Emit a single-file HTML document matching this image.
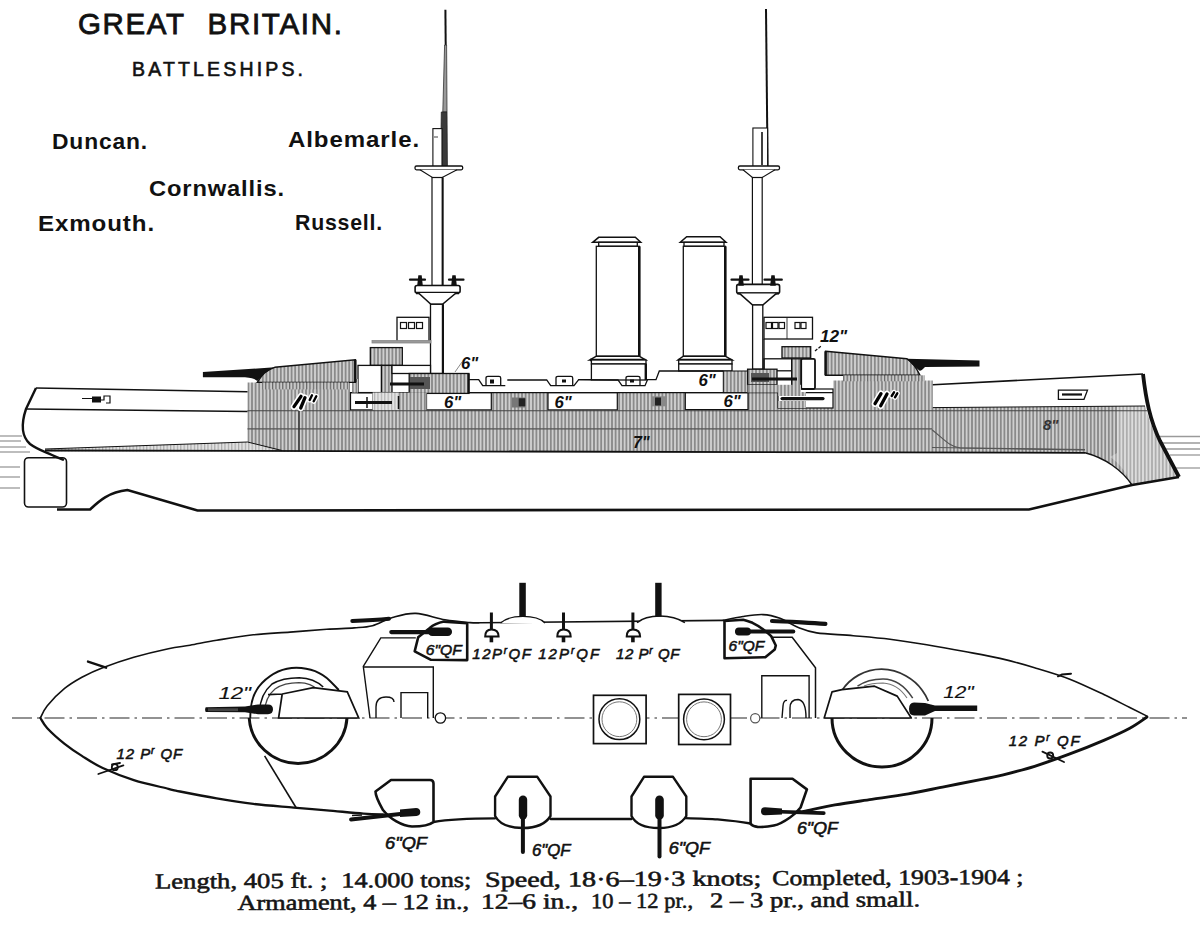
<!DOCTYPE html>
<html><head><meta charset="utf-8"><title>Great Britain Battleships</title>
<style>
html,body{margin:0;padding:0;background:#fff;width:1200px;height:925px;overflow:hidden;}
svg{display:block;}
.t{font-family:"Liberation Sans",sans-serif;fill:#111;}
.s{font-family:"Liberation Serif",serif;fill:#151515;stroke:#151515;stroke-width:0.55px;}
.lb{font-family:"Liberation Sans",sans-serif;font-style:italic;font-weight:bold;fill:#111;}
.pl{font-family:"Liberation Sans",sans-serif;font-style:italic;fill:#111;stroke:#111;stroke-width:0.55px;}
</style></head>
<body>
<svg width="1200" height="925" viewBox="0 0 1200 925">
<defs>
<pattern id="h" width="3.6" height="6" patternUnits="userSpaceOnUse">
<rect width="3.6" height="6" fill="#8a8a8a"/>
<rect x="1.2" width="1.2" height="6" fill="#f2f2f2"/>
</pattern>
<pattern id="h2" width="3.4" height="6" patternUnits="userSpaceOnUse">
<rect width="3.4" height="6" fill="#c8c8c8"/>
<rect x="0" width="1.2" height="6" fill="#666"/>
</pattern>
</defs>

<!-- ============ TITLES ============ -->
<text class="t" x="78" y="33.5" font-size="29.5" stroke="#111" stroke-width="0.8" textLength="106" lengthAdjust="spacing">GREAT</text>
<text class="t" x="207.5" y="33.5" font-size="29.5" stroke="#111" stroke-width="0.8" textLength="134.5" lengthAdjust="spacing">BRITAIN.</text>
<text class="t" x="132" y="76" font-size="19.5" stroke="#111" stroke-width="0.6" textLength="171" lengthAdjust="spacing">BATTLESHIPS.</text>
<text class="t" x="52" y="149.3" font-size="21.5" font-weight="bold" textLength="96" letter-spacing="0.8" lengthAdjust="spacingAndGlyphs">Duncan.</text>
<text class="t" x="288" y="147.3" font-size="21.5" font-weight="bold" textLength="132" letter-spacing="0.8" lengthAdjust="spacingAndGlyphs">Albemarle.</text>
<text class="t" x="149" y="196" font-size="21.5" font-weight="bold" textLength="136" letter-spacing="0.8" lengthAdjust="spacingAndGlyphs">Cornwallis.</text>
<text class="t" x="38" y="231" font-size="21.5" font-weight="bold" textLength="117" letter-spacing="0.8" lengthAdjust="spacingAndGlyphs">Exmouth.</text>
<text class="t" x="295" y="230" font-size="21.5" font-weight="bold" textLength="88" letter-spacing="0.8" lengthAdjust="spacingAndGlyphs">Russell.</text>

<!-- ============ CAPTION ============ -->
<g transform="rotate(-0.3 590 897)">
<text class="s" x="155" y="886.3" font-size="21.5" textLength="172.5" lengthAdjust="spacingAndGlyphs">Length, 405 ft. ;</text>
<text class="s" x="341.3" y="886.3" font-size="21.5" textLength="130.2" lengthAdjust="spacingAndGlyphs">14.000 tons;</text>
<text class="s" x="485" y="886.3" font-size="21.5" textLength="276.5" lengthAdjust="spacingAndGlyphs">Speed, 18·6–19·3 knots;</text>
<text class="s" x="772.3" y="886.3" font-size="21.5" textLength="251.2" lengthAdjust="spacingAndGlyphs">Completed, 1903-1904 ;</text>
<text class="s" x="237.5" y="908.2" font-size="21.5" textLength="231.5" lengthAdjust="spacingAndGlyphs">Armament, 4 – 12 in.,</text>
<text class="s" x="481" y="908.2" font-size="21.5" textLength="97.0" lengthAdjust="spacingAndGlyphs">12–6 in.,</text>
<text class="s" x="591" y="908.2" font-size="21.5" textLength="102.0" lengthAdjust="spacingAndGlyphs">10 – 12 pr.,</text>
<text class="s" x="710" y="908.2" font-size="21.5" textLength="210.0" lengthAdjust="spacingAndGlyphs">2 – 3 pr., and small.</text>
</g>

<!-- water lines -->
<g stroke="#9a9a9a" stroke-width="1.3">
<line x1="0" y1="436" x2="22" y2="436"/><line x1="0" y1="441" x2="21" y2="441"/>
<line x1="0" y1="447" x2="26" y2="447"/><line x1="0" y1="452" x2="30" y2="452"/>
<line x1="0" y1="467" x2="20" y2="467"/><line x1="0" y1="477" x2="20" y2="477"/><line x1="0" y1="488" x2="20" y2="488"/>
<line x1="1160" y1="436.5" x2="1200" y2="436.5"/><line x1="1162" y1="443" x2="1200" y2="443"/>
<line x1="1166" y1="449" x2="1200" y2="449"/><line x1="1170" y1="455" x2="1200" y2="455"/>
<line x1="1175" y1="468" x2="1200" y2="468"/>
</g>
<!-- big hatched belt / barbettes -->
<path fill="url(#h)" d="M247.5,382.4 L350,382.4 L350,392.6 L833,392.6 L833,380.4 L932.8,380.4 L932.8,407.6 L1145,406 C1149,420 1153,432 1160,441 L1179,477 L1132,485 C1122,470 1105,458 1085,452.8 L282,451.7 L247.5,442 Z"/>
<!-- lighter mottled bow area -->
<path d="M1117,406 L1145,406 C1149,420 1153,432 1160,441 L1179,477 L1132,485 C1125,470 1118,462 1110,457 L1117,453 Z" fill="#fff" opacity="0.3"/>
<!-- stern thin hatched strip -->
<path fill="url(#h2)" d="M45,449 L247.5,442 L282,451.5 L45,451.5 Z" opacity="0.55"/>
<!-- bow forefoot hatched lower -->
<path d="M932,447.5 L1085,449.5" stroke="#555" stroke-width="1"/>
<!-- white boxes within belt band (lower casemates) -->
<g fill="#fff" stroke="#111" stroke-width="1.2">
<rect x="350.5" y="392.6" width="22.5" height="17.3"/>
<rect x="426.5" y="392.6" width="64.8" height="17.3"/>
<rect x="548" y="392.6" width="69.3" height="17.3"/>
<rect x="685.3" y="392.6" width="62.7" height="17"/>
<rect x="778" y="389" width="55" height="19"/>
</g>
<!-- ports -->
<g fill="#222">
<rect x="512" y="397.5" width="13" height="10" fill="#777"/><rect x="518.7" y="398.3" width="6.6" height="8"/>
<rect x="651.3" y="396.3" width="15.4" height="10" fill="#888"/><rect x="655" y="397.5" width="6" height="8"/>
</g>
<!-- belt mid line and outlines -->
<g stroke="#222" stroke-width="1.1" fill="none">
<line x1="247.5" y1="428.9" x2="932" y2="428.9" stroke="#555"/>
<line x1="247.5" y1="410.7" x2="1147" y2="410.7" stroke="#444"/>
<line x1="299" y1="410.7" x2="299" y2="451" stroke="#333" stroke-width="1.4"/>
<path d="M932,429.8 C945,440 950,447 960,448 L1085,450" stroke="#555"/>
</g>
<!-- upper deck line -->
<line x1="350" y1="392.6" x2="833" y2="392.6" stroke="#111" stroke-width="1.3"/>

<!-- stern upper hull -->
<g stroke="#111" fill="none">
<path d="M36,388 L247.5,391.7" stroke-width="1.6"/>
<path d="M26,409 L247.5,411.5" stroke-width="1.5"/>
<path d="M36,388 L26,409 C21,424 21,436 30,444 C38,450 46,452 52,455 C58,458 62,459 64,460" stroke-width="2.4"/>
<path d="M45,450.5 L1085,452.8" stroke-width="1.8"/>
<path d="M45,449 L247.5,442 L282,450.5" stroke-width="1"/>
<!-- rudder -->
<rect x="24.5" y="457.7" width="42" height="49.3" rx="4" stroke-width="1.6"/>
<!-- keel -->
<path d="M57,509.5 L90,509.5 C98,502 108,492 127.5,490 L197.5,510.5 L1029,509.5 L1132,485 L1179,477" stroke-width="2.6"/>
<!-- bow stem -->
<path d="M1143,374 C1146,400 1150,420 1160,441 L1179,477" stroke-width="3.8"/>
<!-- forecastle -->
<path d="M932.8,384.8 L1143,374" stroke-width="1.6"/>
<path d="M932.8,407.6 L1145,406" stroke-width="1"/>
<!-- forefoot curve -->
<path d="M1085,452.8 C1105,458 1122,470 1132,485" stroke-width="1.4"/>
</g>
<!-- hawse boxes -->
<g stroke="#111" stroke-width="1.3" fill="#fff">
<path d="M1058.4,390.2 L1087.5,390.2 L1084,399.3 L1058.4,399.3 Z"/>
<path d="M1062,394.5 L1082,394.5" stroke-width="2.2"/>
<path d="M82,398.5 L92,398.5 M101,400 L104,400 L104,396 L110,396 L110,403 L106,403" stroke-width="1.2" fill="none"/>
<rect x="92" y="396.5" width="9" height="6" fill="#111" stroke="none"/>
</g>

<!-- ===== masts ===== -->
<g stroke="#111" fill="#fff">
<!-- main (aft) mast topmast -->
<line x1="445.4" y1="9.7" x2="445.7" y2="46" stroke-width="2"/>
<path d="M444.6,45 L446.6,45 L447,112 L442.8,112 Z" fill="#999" stroke="#333" stroke-width="0.8"/>
<path d="M441.3,112 L447,112 L447.4,166.5 L440.6,166.5 Z" fill="#3a3a3a" stroke="#222" stroke-width="0.8"/>
<rect x="432.9" y="128.6" width="9.1" height="38" stroke-width="1.1"/>
<line x1="434" y1="137" x2="438" y2="137" stroke-width="0.8"/>
<!-- top platform -->
<rect x="415" y="166" width="47.7" height="3.8" rx="1.5" stroke-width="1.3"/>
<path d="M420,169.8 L432.4,177.5 L442.2,177.5 L457,169.8" stroke-width="1.2"/>
<!-- lower mast -->
<rect x="432" y="177.5" width="10.6" height="108" stroke-width="1.2"/>
<line x1="442.6" y1="177.5" x2="442.6" y2="285.5" stroke-width="2"/>
<!-- fighting top -->
<rect x="415.1" y="285.5" width="45" height="7.5" rx="2" stroke-width="1.6"/>
<line x1="416" y1="293" x2="459" y2="293" stroke-width="2.4"/>
<path d="M418.5,293 L430.9,304.3 L442.5,304.3 L456,293" stroke-width="1.6"/>
<rect x="430.5" y="304.3" width="12.4" height="69.2" stroke-width="1.3"/>
<line x1="442.9" y1="304.3" x2="442.9" y2="373.5" stroke-width="2.2"/>

<!-- fore mast topmast -->
<line x1="766" y1="9" x2="767.6" y2="166.5" stroke-width="2"/>
<rect x="752.9" y="128" width="14.7" height="38.5" stroke-width="1.1"/>
<line x1="762" y1="132" x2="762" y2="165" stroke-width="1.6"/>
<rect x="738.4" y="166" width="41.1" height="3.8" rx="1.5" stroke-width="1.3"/>
<path d="M743,169.8 L752.4,177.5 L762.2,177.5 L775,169.8" stroke-width="1.2"/>
<rect x="752.4" y="177.5" width="9.8" height="107" stroke-width="1.2"/>
<rect x="736.7" y="284.4" width="42.9" height="9" rx="2" stroke-width="1.6"/>
<line x1="737.5" y1="293.4" x2="778.8" y2="293.4" stroke-width="2.4"/>
<path d="M739.5,293.4 L752.6,305 L762.8,305 L776.5,293.4" stroke-width="1.6"/>
<rect x="752.6" y="305" width="10.2" height="64.2" stroke-width="1.3"/>
</g>
<!-- small guns on tops -->
<g fill="#111" stroke="#111" stroke-width="2.2" stroke-linecap="round">
<line x1="410" y1="279.7" x2="425" y2="279.7"/><path d="M418,285 L419,276 L421,276 L422,285 Z" stroke-width="1.5"/>
<line x1="449" y1="279.7" x2="463.5" y2="279.7"/><path d="M452,285 L453,276 L455,276 L456,285 Z" stroke-width="1.5"/>
<line x1="731.5" y1="279.7" x2="748.5" y2="279.7"/><path d="M739,285 L740,276 L742,276 L743,285 Z" stroke-width="1.5"/>
<line x1="764.5" y1="279.7" x2="781.8" y2="279.7"/><path d="M771,285 L772,276 L774,276 L775,285 Z" stroke-width="1.5"/>
</g>

<!-- ===== funnels ===== -->
<g stroke="#111" fill="#fff">
<path d="M598.7,237.3 L635.3,237.3 L640.7,242.3 L592.7,242.3 Z" stroke-width="1.5"/>
<rect x="598.7" y="242.3" width="38.6" height="4" stroke-width="1.3"/>
<rect x="596.3" y="246.3" width="43" height="110" stroke-width="1.3"/>
<line x1="639.3" y1="246.3" x2="639.3" y2="356.3" stroke-width="2.6"/>
<path d="M596.3,356.2 L639.3,356.2 L645.6,360 L589.7,360 Z" stroke-width="1.5"/>
<line x1="590" y1="360" x2="645.5" y2="360" stroke-width="2.4"/>
<rect x="591.4" y="360" width="54.6" height="4" stroke-width="1.3"/>
<rect x="591.4" y="364" width="54.6" height="16" stroke-width="1.3"/>
<line x1="645.8" y1="364" x2="645.8" y2="380" stroke-width="2.4"/>

<path d="M686.7,236.7 L720,236.7 L726,242.3 L680.3,242.3 Z" stroke-width="1.5"/>
<rect x="684" y="242.3" width="40" height="4" stroke-width="1.3"/>
<rect x="683.3" y="246.3" width="42" height="110" stroke-width="1.3"/>
<line x1="725.3" y1="246.3" x2="725.3" y2="356.3" stroke-width="2.6"/>
<path d="M683.3,356.2 L725.3,356.2 L732,360 L678,360 Z" stroke-width="1.5"/>
<line x1="678.5" y1="360" x2="731.5" y2="360" stroke-width="2.4"/>
<rect x="678.7" y="360" width="53.3" height="4" stroke-width="1.3"/>
<rect x="678.7" y="364" width="53.3" height="7" stroke-width="1.3"/>
</g>

<!-- ===== superstructure side ===== -->
<g stroke="#111" stroke-width="1.3" fill="none">
<!-- deck line with 12pr ports -->
<path d="M468,379.7 L478.7,379.7 L482.7,385.7 L505.3,385.7 M507.3,380 L546.7,380 L550.7,385.7 L574,385.7 L578.7,379.7 L591.4,379.7 M646,379.7 L656,379.7 L659.3,371 L723.3,371"/>
<path d="M486,385.7 L486,378 Q486,376.3 488,376.3 L499,376.3 Q500.7,376.3 500.7,378 L500.7,385.7"/>
<path d="M556,385.7 L556,378 Q556,376.3 558,376.3 L571,376.3 Q572.7,376.3 572.7,378 L572.7,385.7"/>
<path d="M626,385.7 L626,378 Q626,376.3 628,376.3 L638,376.3 Q640,376.3 640,378 L640,385.7"/>
<path d="M578.7,379.7 L618,380 L622,385.7 L645,385.7 L647.6,379.6"/>
</g>
<g fill="#111">
<rect x="490" y="379.5" width="4" height="4"/><rect x="562" y="379.5" width="4" height="3"/><rect x="630" y="379.5" width="4" height="3"/>
</g>

<!-- aft bridge -->
<g stroke="#111" stroke-width="1.3" fill="#fff">
<rect x="397" y="317.3" width="32" height="24.2"/>
<rect x="400.5" y="322.5" width="6" height="6" stroke-width="1.2"/>
<rect x="408.5" y="322.5" width="6" height="6" stroke-width="1.2"/>
<rect x="416.5" y="322.5" width="6" height="6" stroke-width="1.2"/>
<rect x="372" y="340.5" width="59" height="2.5" fill="#999" stroke="#888" stroke-width="0.8"/>
<rect x="370.3" y="347.6" width="32" height="17.8" fill="url(#h)"/>
<rect x="358" y="365.4" width="23.5" height="27.2"/>
<rect x="381.5" y="365.4" width="10.5" height="27.2" fill="url(#h)"/>
<rect x="392" y="365.4" width="38.5" height="8.1"/>
<rect x="352" y="379" width="6" height="13.6" fill="url(#h)" stroke="none"/>
</g>
<!-- aft upper casemate -->
<rect x="409.2" y="373.5" width="59.7" height="19.9" fill="url(#h)" stroke="#111" stroke-width="1.3"/>
<line x1="468.5" y1="373.5" x2="468.5" y2="393.4" stroke="#111" stroke-width="2.2"/>
<rect x="410" y="377" width="20" height="12" fill="#555"/>
<path d="M390,384 L424,384" stroke="#111" stroke-width="3"/>

<path d="M367,397 L367,408 M375,398 L388,398 L388,407" stroke="#111" stroke-width="1.5" fill="none"/>
<rect x="372.7" y="392.6" width="26.5" height="17.3" fill="#fff"/>
<rect x="372.7" y="392.6" width="26.5" height="17.3" fill="url(#h2)" opacity="0.5"/>
<rect x="399.2" y="392.6" width="27.3" height="17.3" fill="url(#h)"/>
<path d="M398.5,396 L398.5,409" stroke="#111" stroke-width="1.5"/>
<path d="M355,402.5 L392,402.5" stroke="#111" stroke-width="3"/>

<!-- fore bridge -->
<g stroke="#111" stroke-width="1.3" fill="#fff">
<rect x="764" y="317.3" width="48.5" height="21.7"/>
<rect x="766" y="322.5" width="5.5" height="6" stroke-width="1.2"/>
<rect x="772.5" y="322.5" width="5.5" height="6" stroke-width="1.2"/>
<rect x="779" y="322.5" width="5.5" height="6" stroke-width="1.2"/>
<rect x="795" y="322.5" width="5" height="6" stroke-width="1.2"/>
<rect x="801" y="322.5" width="5" height="6" stroke-width="1.2"/>
<line x1="787" y1="318" x2="787" y2="339" stroke-width="0.8"/>
<rect x="782" y="346.7" width="28.7" height="11.3" fill="url(#h)"/>
<rect x="764" y="358.8" width="27.7" height="12"/>
<rect x="791.7" y="358.8" width="9.5" height="30" fill="url(#h)"/>
<rect x="801.2" y="358.8" width="13.8" height="30.2" rx="1.5" stroke-width="1.8"/>
<line x1="764" y1="339" x2="764" y2="371"/>
</g>
<!-- hatched between funnels and fore casemate -->
<rect x="723.3" y="371" width="24.3" height="21.6" fill="url(#h)" stroke="#111" stroke-width="1"/>
<!-- fore upper casemate -->
<rect x="747.6" y="369.2" width="29.4" height="15.6" fill="url(#h)" stroke="#111" stroke-width="1.3"/>
<rect x="751" y="373" width="18" height="9" fill="#555"/>
<path d="M752,379 L797,379" stroke="#111" stroke-width="3"/>
<rect x="747.6" y="384.8" width="53.4" height="7.8" fill="url(#h)"/>
<!-- fore lower gun -->
<path d="M782,398.6 L823,398.6" stroke="#111" stroke-width="3.2" stroke-linecap="round"/>
<rect x="778" y="392" width="28" height="4" fill="url(#h)"/>
<rect x="778" y="401" width="28" height="7" fill="url(#h)"/>

<!-- ===== turrets ===== -->
<!-- aft turret -->
<path d="M257.3,382.4 C262,375 266,370 274.7,367.3 L355.3,359.7 L355.3,382.4 Z" fill="url(#h)" stroke="#111" stroke-width="1.4"/>
<line x1="355.3" y1="359.7" x2="355.3" y2="382.4" stroke="#111" stroke-width="2.5"/>
<path d="M202.9,372 L274.7,367.3 C268,370 262,375 257.3,381 C255,379 252,378 245,377.3 L202.9,377.3 Z" fill="#111"/>
<rect x="262" y="382.4" width="87" height="7" fill="url(#h2)"/>
<!-- fore turret -->
<path d="M825.6,351.3 L906.7,358.7 C912,362 916,367 920,375.3 L825.6,375.3 Z" fill="url(#h)" stroke="#111" stroke-width="1.4"/>
<line x1="825.6" y1="351.3" x2="825.6" y2="375.3" stroke="#111" stroke-width="2.5"/>
<path d="M906.7,358.7 L979.5,360.5 L979.5,366.5 L925,367 C922,370 920,372 918.7,370 C914,366 910,362 906.7,358.7 Z" fill="#111"/>
<rect x="843" y="375.3" width="82" height="6" fill="url(#h2)"/>

<!-- labels -->
<g class="lb">

<text x="461" y="369" font-size="16.8">6"</text>
<text x="444" y="407.7" font-size="16.8">6"</text>
<text x="554.5" y="407.7" font-size="16.8">6"</text>
<text x="698.5" y="386.3" font-size="16.8">6"</text>
<text x="723.5" y="407" font-size="16.8">6"</text>
<text x="820" y="341.9" font-size="17.2">12"</text>
<text x="633" y="448" font-size="16" fill="#111">7"</text>
<text x="1043" y="430" font-size="15" fill="#333">8"</text>
</g>
<line x1="455" y1="372" x2="462" y2="362" stroke="#888" stroke-width="1"/>
<line x1="815" y1="351" x2="822" y2="345.3" stroke="#111" stroke-width="1.3" stroke-dasharray="3,1.5"/>

<g stroke-linecap="round" fill="none">
<g stroke="#fff" stroke-width="6.5">
<path d="M294,406.7 L301,396.3 M300.7,408 L305,397.7"/>
<path d="M875,403.7 L881,393.7 M880.7,405.7 L887,394"/>
</g>
<g stroke="#fff" stroke-width="5">
<path d="M309.7,400 L312,395.3 M313.7,401.3 L316.3,396.3"/>
<path d="M891.7,396 L894,392.3 M895,397.3 L897.3,393.3"/>
</g>
<g stroke="#000" stroke-width="3.3">
<path d="M294,406.7 L301,396.3 M300.7,408 L305,397.7"/>
<path d="M875,403.7 L881,393.7 M880.7,405.7 L887,394"/>
</g>
<g stroke="#000" stroke-width="2.4">
<path d="M309.7,400 L312,395.3 M313.7,401.3 L316.3,396.3"/>
<path d="M891.7,396 L894,392.3 M895,397.3 L897.3,393.3"/>
</g>
</g>


<!-- ===== PLAN VIEW ===== -->
<line x1="12" y1="718" x2="1187" y2="718" stroke="#6f6f6f" stroke-width="1.4" stroke-dasharray="20,5,2.5,5"/>
<g fill="none" stroke="#111" stroke-linejoin="round" stroke-linecap="round">
<!-- upper side -->
<path d="M40.4,718.0 C41.5,716.0 43.3,710.6 47.3,705.7 C51.3,700.8 58.8,693.1 64.6,688.4 C70.4,683.6 75.6,680.7 81.9,677.2 C88.2,673.8 94.0,671.0 102.7,667.7 C111.4,664.4 122.9,660.5 133.8,657.3 C144.8,654.1 159.0,650.7 168.4,648.7 C177.8,646.7 181.9,646.6 190.0,645.2 C198.1,643.8 206.1,642.0 216.7,640.3 C227.2,638.6 241.1,636.2 253.3,634.8 C265.5,633.4 277.8,633.0 290.0,632.1 C302.2,631.2 316.0,630.0 326.7,629.3 C337.4,628.6 346.6,628.5 354.2,627.9 C361.8,627.3 366.1,627.4 372.5,625.7 C378.9,624.0 385.3,619.5 392.5,617.5 C399.7,615.5 407.1,613.0 415.8,613.4 C424.6,613.8 436.0,618.3 445.0,619.8 C454.0,621.3 464.2,622.1 470.0,622.6 C475.8,623.1 478.3,622.8 480.0,622.8 L723.3,620.4" stroke-width="1.6"/>
<path d="M723.3,620.4 C726.6,619.8 736.4,617.5 743.0,616.5 C749.6,615.5 756.8,614.3 763.0,614.6 C769.2,614.9 774.1,616.2 780.0,618.3 C785.9,620.4 792.2,625.0 798.3,627.4 C804.4,629.8 807.5,631.5 816.7,632.9 C825.9,634.3 841.1,634.6 853.3,635.7 C865.5,636.8 877.8,637.8 890.0,639.3 C902.2,640.8 914.5,642.8 926.7,644.8 C938.9,646.8 951.1,649.0 963.3,651.3 C975.5,653.6 988.1,655.7 1000.0,658.4 C1011.9,661.1 1023.1,664.3 1034.6,667.7 C1046.1,671.1 1057.7,674.4 1069.2,678.9 C1080.7,683.4 1093.7,689.7 1103.8,694.5 C1113.9,699.3 1122.6,703.9 1129.8,707.5 C1137.0,711.1 1144.1,714.7 1147.0,716.1" stroke-width="1.6"/>
<!-- lower side -->
<path d="M40.4,718.0 C41.5,719.7 43.3,723.9 47.3,728.2 C51.3,732.5 58.8,739.2 64.6,743.8 C70.4,748.4 75.6,751.9 81.9,755.9 C88.2,759.9 94.0,764.0 102.7,768.0 C111.4,772.0 122.9,776.6 133.8,780.1 C144.8,783.6 160.7,786.9 168.4,788.8 C176.1,790.7 171.9,789.9 180.0,791.5 C188.1,793.1 204.5,796.3 216.7,798.4 C228.9,800.5 240.5,802.4 253.3,803.9 C266.1,805.4 281.5,806.5 293.7,807.6 C305.9,808.7 315.1,809.3 326.7,810.3 C338.3,811.3 353.9,812.9 363.3,813.6 C372.7,814.3 379.7,814.4 383.0,814.5" stroke-width="2.3"/>
<path d="M433.5,822 C445,820 462,818.5 495,818.4" stroke-width="2.3"/>
<path d="M550.5,819 L631.5,819" stroke-width="2.3"/>
<path d="M685,818.1 C700,818.5 710,818.8 717.5,819.4 C730,820.5 742,822 750.6,823.5" stroke-width="2.3"/>
<path d="M800.0,811.5 C800.6,811.5 798.0,812.4 803.8,811.3 C809.6,810.2 823.7,806.9 835.0,804.9 C846.3,802.9 859.5,801.2 871.7,799.4 C883.9,797.6 896.1,796.0 908.3,793.9 C920.5,791.8 932.8,789.0 945.0,786.6 C957.2,784.2 972.5,781.1 981.7,779.3 C990.9,777.5 991.2,777.8 1000.0,775.6 C1008.8,773.4 1023.1,769.9 1034.6,766.3 C1046.1,762.7 1057.7,758.5 1069.2,754.2 C1080.7,749.9 1093.7,744.6 1103.8,740.3 C1113.9,736.0 1122.6,732.1 1129.8,728.2 C1137.0,724.3 1144.1,718.9 1147.0,717.0" stroke-width="2.9"/>
</g>
<!-- ticks / 12pr symbols at ends -->
<g stroke="#111" stroke-width="1.7" fill="none" stroke-linecap="round">
<path d="M88,661.6 L106.1,667.7" stroke-width="2.4"/>
<path d="M1058,676.3 L1062,674.5 L1071,673.7" stroke-width="2"/>
<path d="M98.3,774 L123.4,765.4" stroke-width="1.8"/>
<path d="M1042.4,751.6 L1064,762" stroke-width="1.8"/>
<circle cx="114.8" cy="767.2" r="3" stroke-width="1.8"/>
<path d="M112,764.5 L120,763" stroke-width="1.8"/>
<circle cx="1050.2" cy="755.5" r="3" stroke-width="1.8"/>
</g>

<!-- ===== aft 12" barbette ===== -->
<g fill="none" stroke="#111">
<path d="M249.2,718 A49,48.5 0 0 0 347,718" stroke-width="3"/>
<path d="M250.3,718 C250,700 255,690 262,683 C272,673 285,667.8 296.3,667.8 C312,668 323,674 330,681 C334,685 337,688 338.8,690" stroke-width="1.9"/>
<path d="M259.5,712 C260,698 265,690 272,684 C282,678 292,677.7 299.2,677.7 C310,678 318,682 323.2,687" stroke-width="1.5"/>
<path d="M264.5,712 C265,701 269,694 275,689 C283,683.5 292,682.7 299,682.7 C308,683 314,686 318,690" stroke-width="1.2" stroke="#444"/>
<path d="M264.6,755.9 L296,807.5" stroke-width="1.6"/>
</g>
<path d="M268,694.7 L282.2,694 L313.3,687.6 L347.3,691.9 L358.7,718 L278.6,718 L282.2,694" fill="#fff" stroke="#111" stroke-width="1.7"/>
<!-- aft 12" gun -->
<path d="M205.7,707.2 L245,706.5 L258,704.5 L268,704.5 Q273,704.5 273,709.3 Q273,714.2 268,714.2 L258,714.2 L245,712.3 L205.7,712 Q204.5,709.6 205.7,707.2 Z" fill="#111"/>
<rect x="208" y="708.3" width="30" height="2.8" fill="#444"/>

<!-- aft superstructure -->
<g fill="none" stroke="#111" stroke-width="1.4">
<path d="M370,718 L363.3,666.5 L380.8,637.9 L415.8,637.9"/>
<path d="M363.3,667 L433.3,667 L433.3,718"/>
<path d="M376,718 L376,707 C376,699 381,697 386,697 C391,697 394,699 394,702"/>
<path d="M401,718 L401,692.6 L427.7,692.6 L427.7,718"/>
</g>
<circle cx="440.4" cy="718" r="5.2" fill="#fff" stroke="#111" stroke-width="1.3"/>
<!-- aft upper casemate -->
<path d="M418.2,637.3 L414.7,651.3 L431,659.8 L467.2,660.1 L467.2,623.3 L444,621.6 C437,623 432,626 429.8,628 L418.2,637.3 Z" fill="#fff" stroke="#111" stroke-width="2.6" stroke-linejoin="round"/>
<!-- aft upper guns -->
<path d="M352.3,621 C365,620.5 378,619.8 389,618.7" stroke="#111" stroke-width="4" stroke-linecap="round" fill="none"/>
<path d="M391.3,632.1 L440,632.1" stroke="#111" stroke-width="4.2" stroke-linecap="round"/>
<rect x="428" y="627.5" width="24" height="8.6" rx="4.2" fill="#111"/>

<!-- aft lower casemate -->
<path d="M391,780 L430,780 Q433.5,780 433.5,783.5 L433.5,822 C430,825 420,826.5 412,826.5 C402,826 390,819 383,810 C379,803 375.5,797 375.5,791.5 Z" fill="#fff" stroke="#111" stroke-width="2.6" stroke-linejoin="round"/>
<path d="M351,819.5 L418,812" stroke="#111" stroke-width="3.8" stroke-linecap="round"/>
<path d="M400,809.5 L416,808 Q420,808 420.3,812 Q420.3,815.5 416.5,816 L400,817 Z" fill="#111"/>
<path d="M352,815.5 L362,815" stroke="#111" stroke-width="1.5"/>

<!-- 12pr guns top -->
<g stroke="#111">
<g id="g12">
<line x1="491.4" y1="612.5" x2="491.4" y2="629" stroke-width="3"/>
<path d="M485.2,636.5 C485.2,631 488,629.5 491.4,629.5 C495,629.5 498.6,631 498.6,636.5 Z" fill="#fff" stroke-width="2"/>
<line x1="491.4" y1="636.5" x2="491.4" y2="642.3" stroke-width="3.6"/>
</g>
<use href="#g12" transform="translate(72.1,0)"/>
<use href="#g12" transform="translate(141.5,0)"/>
</g>
<!-- beam 6" guns (top) and domes -->
<path d="M500.5,623 C506,618 514,616.4 523,616.4 C532,616.4 540,618 545,623" fill="#fff" stroke="#111" stroke-width="1.4"/>
<path d="M637.1,622.7 C643,617.5 651,616 660,616 C669,616 677,617.5 684.9,622.7" fill="#fff" stroke="#111" stroke-width="1.4"/>
<rect x="519.3" y="582.8" width="6.5" height="34" fill="#111"/>
<rect x="655.2" y="582.8" width="6.4" height="34" fill="#111"/>

<!-- funnel squares -->
<g fill="#fff" stroke="#111">
<rect x="593.5" y="695.3" width="52.6" height="48.3" stroke-width="1.7"/>
<circle cx="619.4" cy="719.2" r="20.4" stroke-width="1.5"/>
<circle cx="619.4" cy="719.2" r="17.4" stroke-width="1" stroke="#777"/>
<rect x="678.7" y="694.4" width="51.8" height="50.1" stroke-width="1.7"/>
<circle cx="704" cy="719.3" r="20.4" stroke-width="1.5"/>
<circle cx="704" cy="719.3" r="17.4" stroke-width="1" stroke="#777"/>
<circle cx="755.2" cy="718.3" r="4.6" stroke-width="1.2" stroke="#555"/>
</g>

<!-- lower beam casemates (octagons) -->
<g fill="#fff" stroke="#111" stroke-width="2.4" stroke-linejoin="round">
<path d="M495.1,816 L495.1,796.5 L507.8,776.8 L537.3,776.8 L550.5,796.5 L550.5,816 C545,825 535,828 523,828 C510,828 500,825 495.1,816 Z"/>
<path d="M631.5,816 L631.5,796.5 L644,776.8 L673,776.8 L686.3,796.5 L686.3,816 C681,825 671,828 659,828 C646,828 636,825 631.5,816 Z"/>
</g>
<path d="M522.9,800 L522.9,852" stroke="#111" stroke-width="4" stroke-linecap="round"/>
<rect x="518.8" y="795.5" width="8.4" height="24" rx="4.2" fill="#111"/>
<path d="M659.5,800 L659.5,856.5" stroke="#111" stroke-width="4" stroke-linecap="round"/>
<rect x="655.2" y="795.5" width="8.6" height="24" rx="4.3" fill="#111"/>

<!-- fore upper casemate -->
<path d="M724.5,621 L743.2,619.8 C746,620.5 749,621.5 752.5,622.8 C756,624.5 760,627 763,629.2 C766,631.5 769,634 771.2,636.2 L775.8,645.5 L774.7,649.6 L765.3,657.2 L724.5,658.3 Z" fill="#fff" stroke="#111" stroke-width="2.6" stroke-linejoin="round"/>
<path d="M737.3,631.5 L793.3,631.5" stroke="#111" stroke-width="4" stroke-linecap="round"/>
<rect x="735" y="627.6" width="16" height="7.8" rx="3.9" fill="#111"/>
<path d="M772,621 C785,621.2 800,622.5 825.4,623.9" stroke="#111" stroke-width="4.2" stroke-linecap="round" fill="none"/>

<!-- fore superstructure -->
<g fill="none" stroke="#111" stroke-width="1.4">
<path d="M772.3,637.3 L792.2,637.3 L815.5,667.7 L815.5,718" stroke-width="1.5"/>
<path d="M761.8,718 L761.8,675.8 L809.1,675.8 L809.1,718"/>
<path d="M782,718 L783,706 C783,702 785,700 787,700.5 M790,718 L790,708 C790,701 794,699.5 798,699.5 C803,700 806,706 806,718"/>
</g>

<!-- fore 12" barbette -->
<g fill="none" stroke="#111">
<path d="M832,718 A50,49 0 0 0 932,718" stroke-width="3"/>
<path d="M842,690.5 C850,678 865,669.2 881.6,669.2 C900,669.5 915,680 922,690 C925,694 927,698 928.3,701" stroke-width="1.8" stroke="#333"/>
<path d="M857.5,686.2 C865,681 873,679 883,679 C895,679 905,686 912.7,698.2" stroke-width="1.5" stroke="#444"/>
<path d="M864,686 C870,683.5 876,683 883,683 C893,683.5 901,689 907,698" stroke-width="1.1" stroke="#777"/>
</g>
<path d="M824.2,718 L832,691.9 L841.9,689.7 L874.5,686.2 L897.2,696.1 L911.3,718 Z" fill="#fff" stroke="#111" stroke-width="1.7" stroke-linejoin="round"/>
<!-- fore 12" gun -->
<path d="M977.2,705.5 L935,705.5 L925,703 L914,702.5 Q909,702.5 909,709 Q909,715.5 914,715.5 L925,715.5 L935,711 L977.2,711 Z" fill="#111"/>

<!-- fore lower casemate -->
<path d="M750.6,778.8 L792.5,778.8 L806.9,789.4 L800.6,807.5 C797,812 794,815 790,817.5 C785,821 779,824.5 773.8,825.6 C768,826.8 762,827.2 757.5,826.9 C754,826.5 752,825.5 750.6,823.8 Z" fill="#fff" stroke="#111" stroke-width="2.6" stroke-linejoin="round"/>
<path d="M765,811.3 L823.8,813.1" stroke="#111" stroke-width="3.6" stroke-linecap="round"/>
<path d="M765,807.3 L782,808.5 L782,814.5 L765,815.3 Q761,815.3 761,811.3 Q761,807.3 765,807.3 Z" fill="#111"/>

<!-- plan labels -->
<g class="pl">
<text x="218.4" y="699" font-size="17" stroke-width="0.15" textLength="32.6" lengthAdjust="spacingAndGlyphs">12"</text>
<text x="943.2" y="698.2" font-size="17" stroke-width="0.15" textLength="30.5" lengthAdjust="spacingAndGlyphs">12"</text>
<text x="116.5" y="759.4" font-size="15" textLength="65.7" lengthAdjust="spacing">12 P<tspan font-size="10" dy="-5">r</tspan><tspan dy="5"> QF</tspan></text>
<text x="1008.7" y="746.4" font-size="15" textLength="70.9" lengthAdjust="spacing">12 P<tspan font-size="10" dy="-5">r</tspan><tspan dy="5"> QF</tspan></text>
<text x="472.3" y="658.9" font-size="15" textLength="58.7" lengthAdjust="spacing">12P<tspan font-size="10" dy="-5">r</tspan><tspan dy="5">QF</tspan></text>
<text x="538.2" y="658.7" font-size="15" textLength="61" lengthAdjust="spacing">12P<tspan font-size="10" dy="-5">r</tspan><tspan dy="5">QF</tspan></text>
<text x="616" y="658.7" font-size="15" textLength="63.3" lengthAdjust="spacing">12 P<tspan font-size="10" dy="-5">r</tspan><tspan dy="5"> QF</tspan></text>
<text x="425.8" y="654.8" font-size="15.5" textLength="36" lengthAdjust="spacingAndGlyphs">6"QF</text>
<text x="728.6" y="651.3" font-size="15.5" textLength="35.6" lengthAdjust="spacingAndGlyphs">6"QF</text>
<text x="385" y="849" font-size="16.5" textLength="42" lengthAdjust="spacingAndGlyphs">6"QF</text>
<text x="797" y="834.4" font-size="16" textLength="40.8" lengthAdjust="spacingAndGlyphs">6"QF</text>
<text x="532" y="855.8" font-size="16" textLength="38.6" lengthAdjust="spacingAndGlyphs">6"QF</text>
<text x="668.7" y="854" font-size="16" textLength="41.3" lengthAdjust="spacingAndGlyphs">6"QF</text>
</g>


</svg>
</body></html>
